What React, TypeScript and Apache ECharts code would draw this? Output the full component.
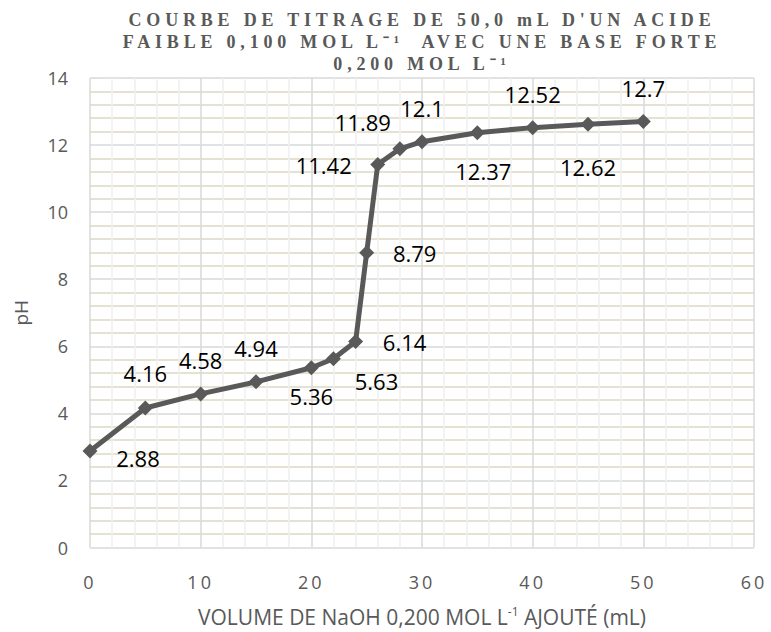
import React, { useEffect, useRef } from "react";
import * as echarts from "echarts";

const volumes = [0, 5, 10, 15, 20, 22, 24, 25, 26, 28, 30, 35, 40, 45, 50];
const pHValues = [2.88, 4.16, 4.58, 4.94, 5.36, 5.63, 6.14, 8.79, 11.42, 11.89, 12.1, 12.37, 12.52, 12.62, 12.7];
const labelOffsets: number[][] = [
  [48, 7], [0, -35], [0, -34], [0, -34], [0, 28], [43, 22], [49, 0], [48, 0],
  [-54, 0], [-37, -27], [0, -34], [6, 38], [0, -34], [0, 43], [0, -34],
];
const xTicks = { min: 0, max: 60, interval: 10 };
const yTicks = { min: 0, max: 14, interval: 2 };
const xTickLabels = ["0", "10", "20", "30", "40", "50", "60"];
const titleLines = [
  "COURBE DE TITRAGE DE 50,0 mL D'UN ACIDE",
  "FAIBLE 0,100 MOL L⁻¹  AVEC UNE BASE FORTE",
  "0,200 MOL L⁻¹",
];
const xName = "VOLUME DE NaOH 0,200 MOL L{sup|-1} AJOUTÉ (mL)";
const yName = "pH";

export default function App() {
  const ref = useRef<HTMLDivElement>(null);
  useEffect(() => {
    if (!ref.current) return;
    const chart = echarts.init(ref.current, null, { renderer: "svg" });
    const gray = "#595959";
    const font = "Open Sans";
    const spaceTexts = () => {
      const root = ref.current;
      if (!root) return;
      root.querySelectorAll("text").forEach((t) => {
        const s = (t.textContent || "").trim();
        if (titleLines.map((l) => l.replace(/\s+/g, " ")).includes(s.replace(/\s+/g, " "))) {
          t.setAttribute("letter-spacing", "4.8");
        } else if (xTickLabels.includes(s)) {
          const b = (t as SVGTextElement).getBBox();
          const m = (t as SVGTextElement).getCTM();
          const y = m ? m.f + b.y : b.y;
          if (y > 560) t.setAttribute("letter-spacing", "3");
        }
      });
    };
    chart.on("finished", spaceTexts);
    chart.setOption({
      animation: false,
      backgroundColor: "#ffffff",
      title: titleLines.map((line, i) => ({
        text: line,
        left: 422,
        textAlign: "center",
        top: 11 + i * 22,
        padding: 0,
        textStyle: {
          fontFamily: "Liberation Serif",
          fontWeight: "bold",
          fontSize: 18,
          color: gray,
        },
      })),
      grid: { left: 90, right: 17, top: 78, bottom: 74, containLabel: false },
      xAxis: {
        type: "value",
        min: xTicks.min,
        max: xTicks.max,
        interval: xTicks.interval,
        axisLine: { show: false },
        axisTick: { show: false },
        axisLabel: { fontFamily: font, fontSize: 18, color: gray, margin: 25 },
        splitLine: { show: true, lineStyle: { color: "#d9d9d9", width: 1.5 } },
        minorTick: { show: false, splitNumber: 5 },
        minorSplitLine: { show: true, lineStyle: { color: "#efefef", width: 1.5 } },
        name: xName,
        nameLocation: "middle",
        nameGap: 58,
        nameTextStyle: {
          fontFamily: font,
          fontSize: 21,
          color: gray,
          rich: {
            sup: { fontFamily: font, fontSize: 12, color: gray, padding: [0, 0, 10, 0] },
          },
        },
      },
      yAxis: {
        type: "value",
        min: yTicks.min,
        max: yTicks.max,
        interval: yTicks.interval,
        axisLine: { show: false },
        axisTick: { show: false },
        axisLabel: { fontFamily: font, fontSize: 18, color: gray, margin: 22 },
        splitLine: { show: true, lineStyle: { color: "#d9d9d9", width: 1.5 } },
        minorTick: { show: false, splitNumber: 5 },
        minorSplitLine: { show: true, lineStyle: { color: "#ddd9c3", width: 1.5 } },
        name: yName,
        nameLocation: "middle",
        nameGap: 60,
        nameTextStyle: { fontFamily: font, fontSize: 19, color: gray },
      },
      series: [
        {
          type: "line",
          data: volumes.map((v, i) => ({
            value: [v, pHValues[i]],
            label: { offset: labelOffsets[i] },
          })),
          symbol: "diamond",
          symbolSize: 15,
          lineStyle: { color: "#595959", width: 5 },
          itemStyle: { color: "#595959" },
          label: {
            show: true,
            position: "inside",
            fontFamily: font,
            fontSize: 22,
            color: "#000000",
            formatter: (p: any) => String(p.value[1]),
          },
        },
      ],
    });
    spaceTexts();
    const timer = setTimeout(spaceTexts, 50);
    return () => {
      clearTimeout(timer);
      chart.dispose();
    };
  }, []);
  return <div ref={ref} style={{ width: 771, height: 632, position: "absolute", left: 0, top: 0 }} />;
}
